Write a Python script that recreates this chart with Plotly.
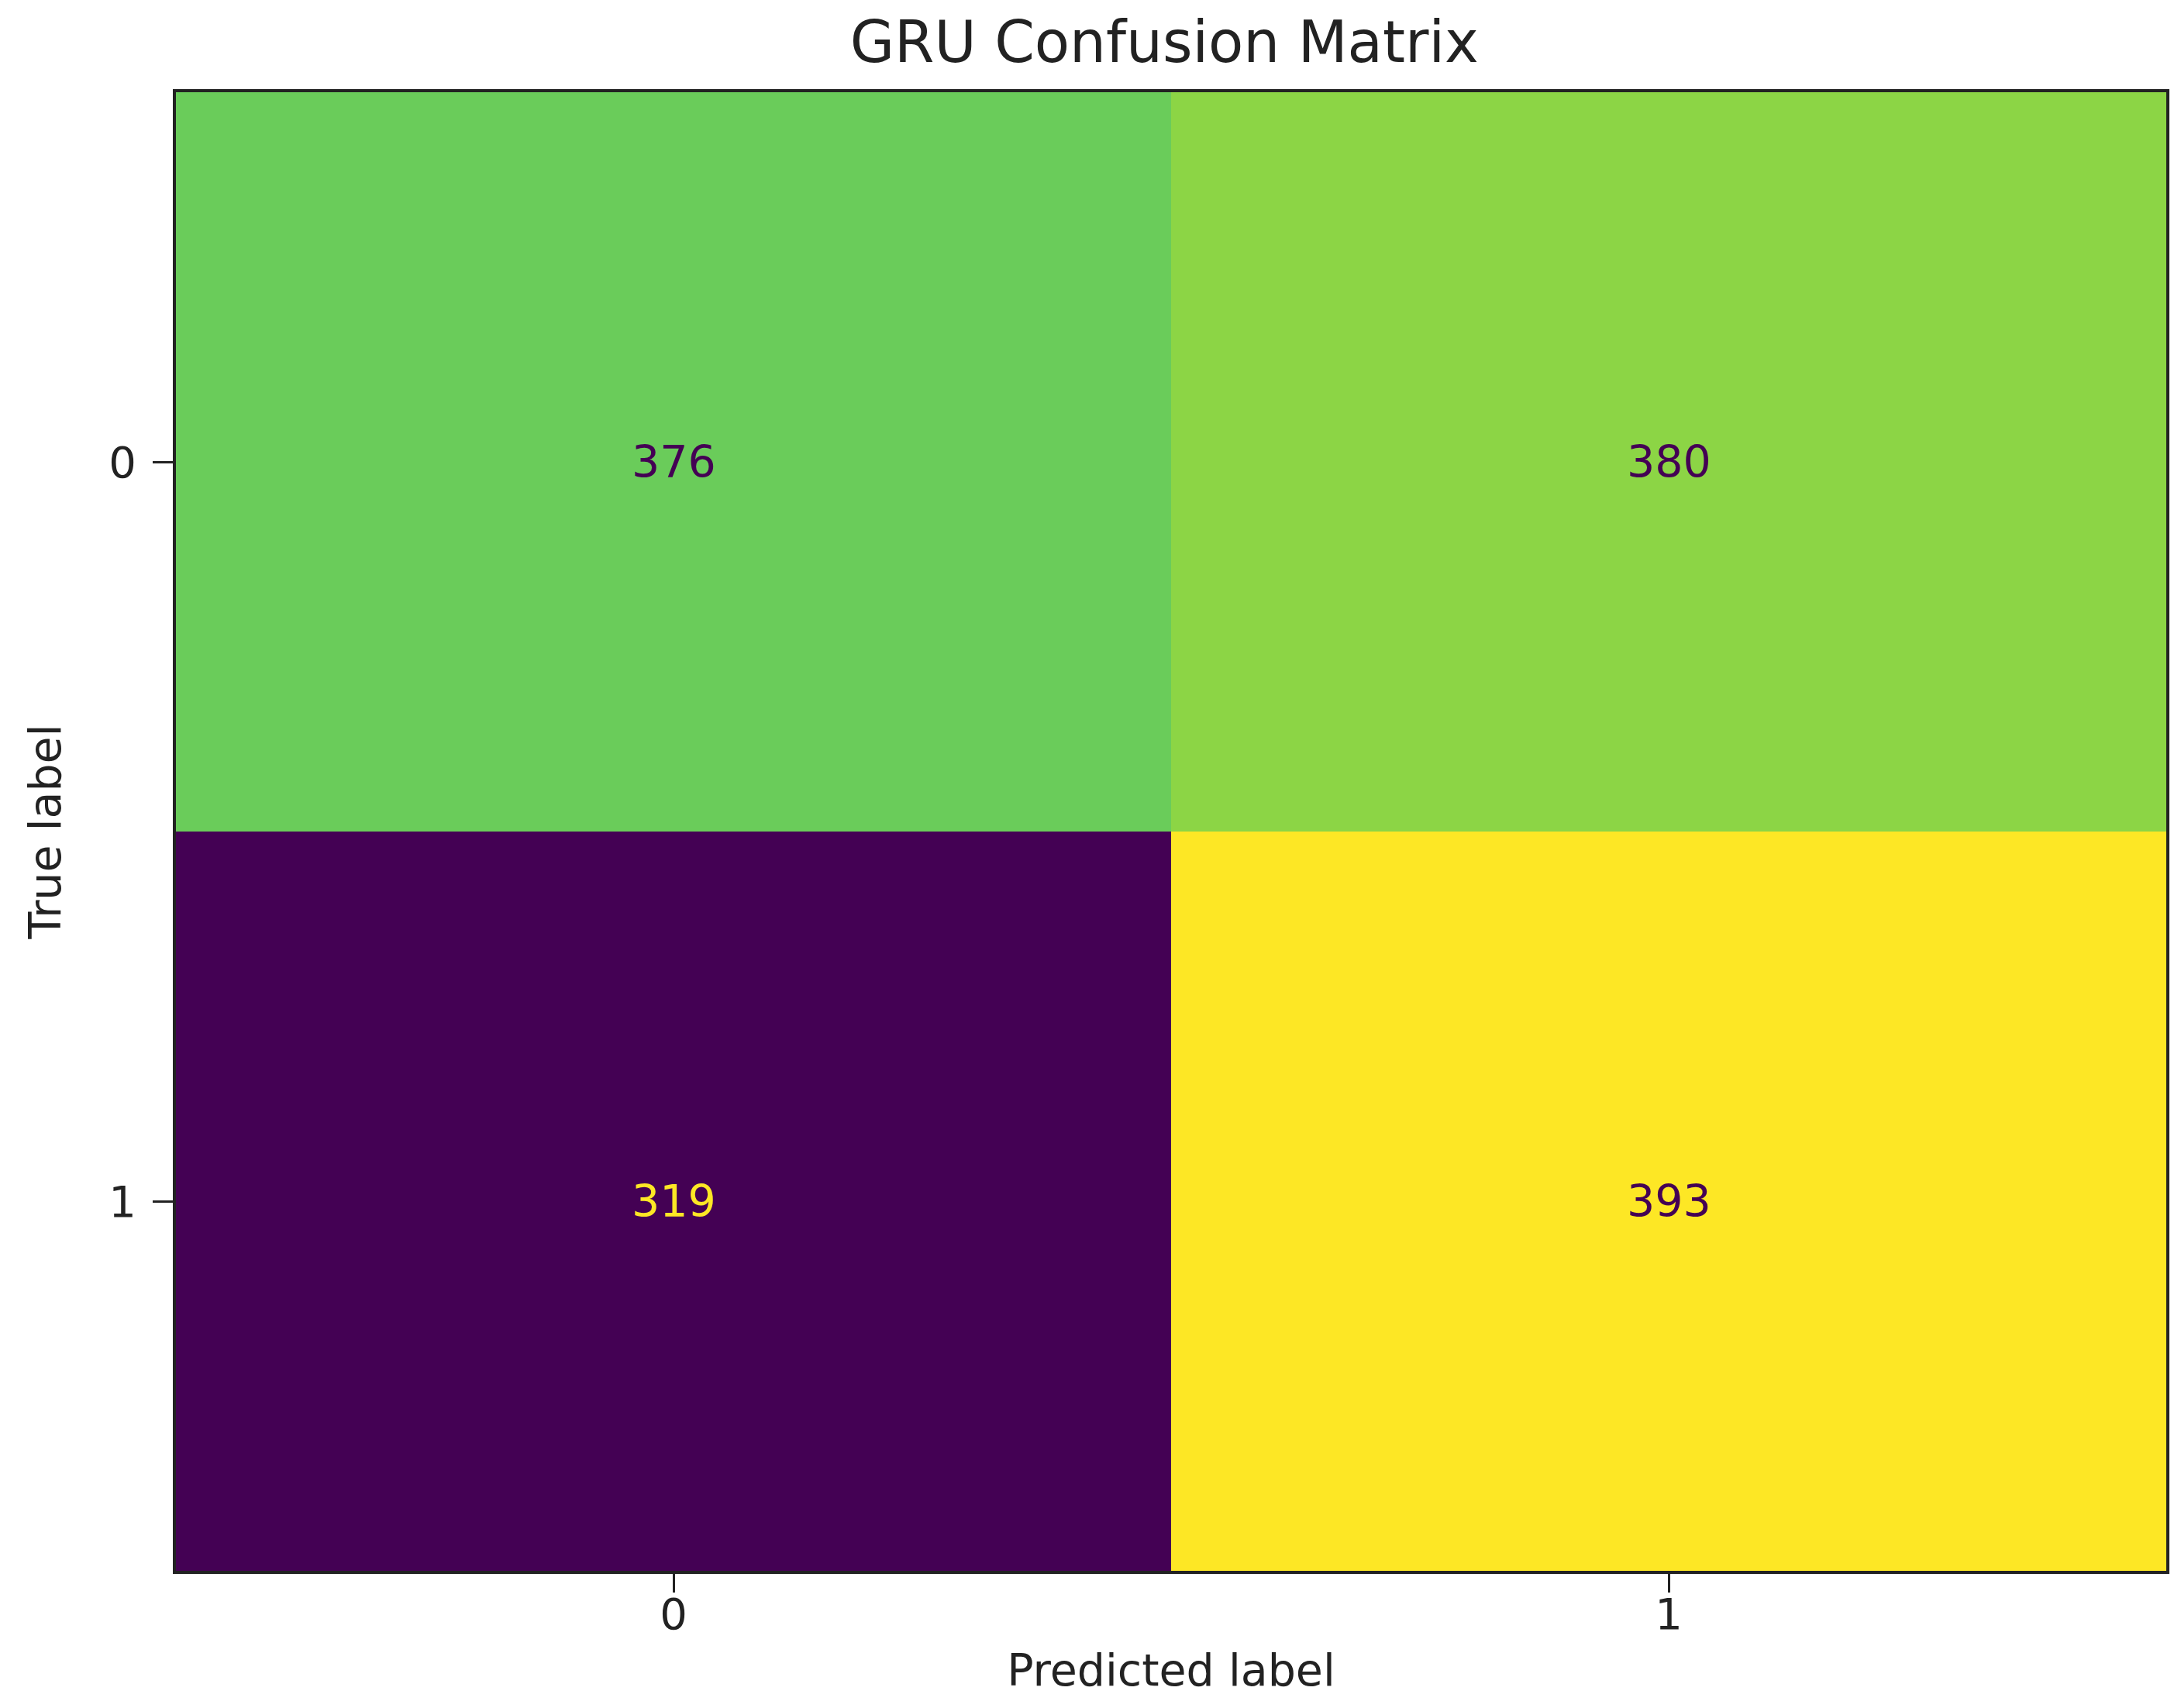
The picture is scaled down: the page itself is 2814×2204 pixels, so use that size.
import plotly.graph_objects as go

# Data
true_labels = [0, 1]
pred_labels = [0, 1]
tick_text = ["0", "1"]
counts = [[376, 380],
          [319, 393]]
title_text = "GRU Confusion Matrix"
x_title = "Predicted label"
y_title = "True label"

FONT = "DejaVu Sans"
VIRIDIS_LOW = "#440154"
VIRIDIS_HIGH = "#fde725"

zmin = min(min(r) for r in counts)
zmax = max(max(r) for r in counts)
thresh = (zmin + zmax) / 2.0

fig = go.Figure()
fig.add_trace(go.Heatmap(
    z=counts, x=pred_labels, y=true_labels,
    colorscale="Viridis", zmin=zmin, zmax=zmax,
    showscale=False, hoverinfo="skip",
))

for i, t in enumerate(true_labels):
    for j, p in enumerate(pred_labels):
        v = counts[i][j]
        fig.add_annotation(
            x=p, y=t, xref="x", yref="y", text=str(v), showarrow=False,
            font=dict(family=FONT, size=57,
                      color=VIRIDIS_HIGH if v < thresh else VIRIDIS_LOW),
        )

fig.update_layout(
    width=2814, height=2204,
    margin=dict(l=219, r=27, t=111, b=185),
    paper_bgcolor="white", plot_bgcolor="white",
    title=dict(text=title_text, x=0.531, xanchor="center", y=0.979, yanchor="middle",
               font=dict(family=FONT, size=74, color="#222222")),
    font=dict(family=FONT, color="#222222"),
)
fig.update_xaxes(
    range=[-0.5, 1.5], tickvals=pred_labels, ticktext=tick_text,
    ticks="outside", ticklen=24, tickwidth=2.5, tickcolor="#222222",
    tickfont=dict(family=FONT, size=56, color="#222222"), ticklabelstandoff=-20,
    showline=True, linecolor="#222222", linewidth=4, mirror=True,
    showgrid=False, zeroline=False,
    title=dict(text=x_title, font=dict(family=FONT, size=57, color="#222222"), standoff=22),
)
fig.update_yaxes(
    range=[1.5, -0.5], tickvals=true_labels, ticktext=tick_text,
    ticks="outside", ticklen=26, tickwidth=2.5, tickcolor="#222222",
    tickfont=dict(family=FONT, size=56, color="#222222"), ticklabelstandoff=10,
    showline=True, linecolor="#222222", linewidth=4, mirror=True,
    showgrid=False, zeroline=False,
    title=dict(text=y_title, font=dict(family=FONT, size=57, color="#222222"), standoff=44),
)

fig.write_html("out.html")
